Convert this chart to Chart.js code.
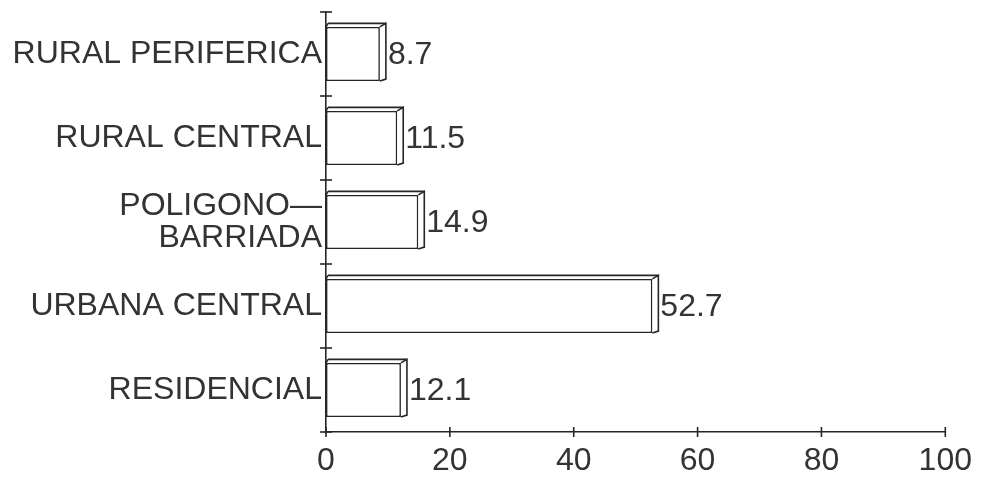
<!DOCTYPE html>
<html><head><meta charset="utf-8">
<script src="https://cdn.jsdelivr.net/npm/chart.js@4.4.1/dist/chart.umd.min.js"></script>
<style>html,body{margin:0;padding:0;background:#fff}canvas{display:block}</style>
</head><body>
<canvas id="c" width="982" height="481"></canvas>
<script>
// ---- data ----
const categories = ["RURAL PERIFERICA", "RURAL CENTRAL", ["POLIGONO\u2014", "BARRIADA"], "URBANA CENTRAL", "RESIDENCIAL"];
const values = [8.7, 11.5, 14.9, 52.7, 12.1];
const valueLabels = ["8.7", "11.5", "14.9", "52.7", "12.1"];
const xTickValues = [0, 20, 40, 60, 80, 100];

// ---- style ----
const INK = '#262626';
const TEXT = '#333333';
const FONT = "'Liberation Sans', Arial, sans-serif";
const FSIZE = 32;
const DX = 6, DY = -3.5;

const box3d = {
  id: 'box3d',
  afterDatasetsDraw(chart) {
    const ctx = chart.ctx;
    const meta = chart.getDatasetMeta(0);
    const xs = chart.scales.x, ys = chart.scales.y;
    ctx.save();
    ctx.strokeStyle = INK;
    ctx.lineWidth = 1.6;
    ctx.lineJoin = 'miter';
    meta.data.forEach((bar, i) => {
      const p = bar.getProps(['x', 'y', 'base', 'height'], true);
      const top = p.y - p.height / 2, bot = p.y + p.height / 2;
      // side face
      ctx.beginPath();
      ctx.moveTo(p.x, top);
      ctx.lineTo(p.x + DX, top + DY);
      ctx.lineTo(p.x + DX, bot + DY + 1.5);
      ctx.lineTo(p.x, bot);
      ctx.stroke();
      // top face back edge
      ctx.beginPath();
      ctx.moveTo(p.base + 2, top + DY);
      ctx.lineTo(p.x + DX, top + DY);
      ctx.moveTo(p.base, top);
      ctx.lineTo(p.base + 2, top + DY);
      ctx.stroke();
      // value label
      ctx.fillStyle = TEXT;
      ctx.font = FSIZE + 'px ' + FONT;
      ctx.textAlign = 'left';
      ctx.textBaseline = 'middle';
      ctx.fillText(valueLabels[i], p.x + DX + 2, p.y + 1);
    });
    // y-axis crossing ticks at category boundaries
    const ax = xs.getPixelForValue(0);
    for (let i = 0; i <= categories.length; i++) {
      const py = ys.getPixelForValue(i - 0.5);
      ctx.beginPath();
      ctx.moveTo(ax - 6, py);
      ctx.lineTo(ax + 6, py);
      ctx.stroke();
    }
    // x-axis crossing ticks
    const by = chart.chartArea.bottom;
    xTickValues.forEach(v => {
      const px = xs.getPixelForValue(v);
      ctx.beginPath();
      ctx.moveTo(px, by - 5);
      ctx.lineTo(px, by + 5);
      ctx.stroke();
    });
    ctx.restore();
  }
};

Chart.defaults.font.family = FONT;
Chart.defaults.font.size = FSIZE;
Chart.defaults.color = TEXT;

new Chart(document.getElementById('c'), {
  type: 'bar',
  data: {
    labels: categories,
    datasets: [{
      data: values,
      backgroundColor: '#ffffff',
      borderColor: INK,
      borderWidth: 1.6,
      borderSkipped: false,
      categoryPercentage: 1,
      barPercentage: 0.645
    }]
  },
  options: {
    indexAxis: 'y',
    responsive: false,
    animation: false,
    devicePixelRatio: 1,
    layout: { padding: { top: 12, right: 36, left: 0, bottom: 0 } },
    plugins: { legend: { display: false }, tooltip: { enabled: false } },
    scales: {
      x: {
        min: 0, max: 100,
        afterBuildTicks(s) { s.ticks = xTickValues.map(v => ({ value: v })); },
        ticks: { color: TEXT, font: { size: FSIZE, family: FONT }, padding: 10, maxRotation: 0, autoSkip: false },
        grid: { display: false, drawTicks: false },
        border: { display: true, color: INK, width: 1.6 },
        afterFit(s) { s.height = 49; }
      },
      y: {
        ticks: { color: TEXT, font: { size: FSIZE, family: FONT, lineHeight: 1.0 }, padding: 4, autoSkip: false },
        grid: { display: false, offset: true, drawTicks: false },
        border: { display: true, color: INK, width: 1.6 },
        afterFit(s) { s.width = 326; s.paddingTop = 0; s.paddingBottom = 0; }
      }
    }
  },
  plugins: [box3d]
});
</script>
</body></html>
